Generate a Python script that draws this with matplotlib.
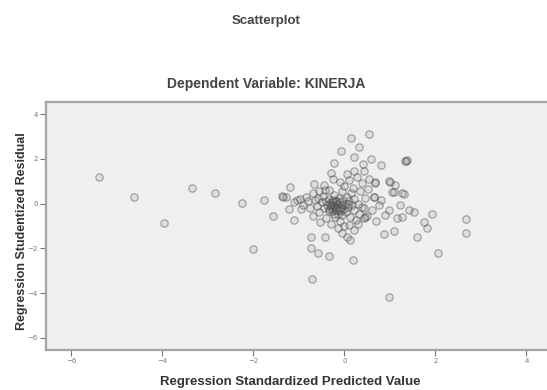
import matplotlib.pyplot as plt
import numpy as np

# predicted value (x) dan studentized residual (y)
pred_outer = [-5.40, -4.62, -3.96, -3.36, -2.85, -2.26, -2.02, -1.77, -1.57, -1.20,
              -1.37, -1.28, -1.22, -1.11, -1.04, -1.35, -0.67, -0.53, -0.71, -0.74,
              -0.74, -0.58, -0.34, 0.18, -0.42, 0.06, 0.12]
resid_outer = [1.17, 0.30, -0.88, 0.71, 0.46, 0.04, -2.03, 0.16, -0.56, 0.75,
               0.33, 0.30, -0.25, -0.74, 0.16, 0.30, 0.86, -0.81, -3.37, -1.48,
               -2.00, -2.22, -2.33, -2.52, -1.48, -1.48, -1.62]

pred_upper = [0.55, 0.15, 0.33, -0.07, 0.20, 0.58, 1.36, 1.38, 1.34, -0.23,
              0.41, 0.80, 0.22, 0.44, -0.29, 0.68, 0.99, 1.12, 1.08, 1.30,
              0.66, 1.00, 1.04, 1.26, 0.68, 0.64]
resid_upper = [3.09, 2.94, 2.54, 2.36, 2.06, 1.97, 1.90, 1.95, 1.88, 1.82,
               1.76, 1.72, 1.47, 1.47, 1.38, 0.97, 1.00, 0.83, 0.53, 0.41,
               0.30, 0.97, 0.53, 0.46, 0.90, 0.30]

pred_right = [0.60, 0.97, 1.23, 1.41, 1.52, 1.92, 1.74, 1.81, 1.08, 0.86,
              1.59, 2.67, 2.67, 2.05, 1.15, 1.26, 0.39, 0.46, 0.97]
resid_right = [-0.29, -0.29, -0.07, -0.29, -0.37, -0.49, -0.81, -1.08, -1.24, -1.38,
               -1.48, -0.69, -1.30, -2.19, -0.66, -0.59, -0.14, -0.59, -4.16]

pred_core = [-1.10, -0.98, -0.90, -0.85, -0.80, -0.75, -0.70, -0.65, -0.60, -0.58,
             -0.55, -0.50, -0.48, -0.45, -0.42, -0.40, -0.38, -0.35, -0.33, -0.30,
             -0.28, -0.26, -0.24, -0.22, -0.20, -0.18, -0.16, -0.15, -0.13, -0.12,
             -0.10, -0.08, -0.06, -0.05, -0.03, -0.02, 0.00, 0.02, 0.04, 0.05,
             0.07, 0.09, 0.10, 0.12, 0.14, 0.16, 0.18, 0.20, 0.22, 0.25,
             0.27, 0.30, 0.32, 0.35, 0.38, 0.42, 0.45, 0.50, 0.52, 0.55,
             -0.20, -0.10, 0.00, -0.30, -0.15, 0.10, 0.30, 0.42, -0.45, -0.25,
             -0.10, 0.05, -0.35, -0.55, -0.95, -0.70, -0.40, 0.20, -0.05, 0.75,
             0.80, 0.90, 0.70, -0.25, -0.18, -0.08, 0.08, -0.32,
             -0.28, -0.22, -0.12, -0.30, -0.18, -0.05, -0.35, -0.25]
resid_core = [0.05, 0.20, -0.05, 0.30, 0.10, -0.20, 0.45, 0.15, -0.10, 0.25,
              -0.40, 0.05, 0.35, -0.20, 0.60, 0.10, -0.05, -0.35, 0.20, -0.15,
              0.05, -0.25, 0.40, -0.10, 0.10, -0.30, 0.00, -0.45, 0.25, -0.15,
              0.05, -0.35, 0.55, -0.05, 0.15, -0.25, 0.80, 0.00, -0.40, 0.30,
              -0.15, 1.05, 0.10, -0.60, 0.45, -0.05, 0.70, -0.30, 0.20, -0.75,
              1.20, 0.00, -0.45, 0.55, 0.90, -0.20, 0.25, -0.55, 0.65, 1.10,
              -0.60, -0.80, -1.00, -0.90, -1.10, -0.95, -0.90, -0.65, 0.85, 1.10,
              0.95, 1.30, 0.60, 0.55, -0.25, -0.55, -0.65, -1.20, -1.30, -0.05,
              0.15, -0.50, -0.80, -0.05, 0.10, -0.20, 0.00, 0.02,
              -0.35, -0.45, -0.30, -0.05, -0.20, -0.50, -0.25, 0.15]

x = pred_outer + pred_upper + pred_right + pred_core
y = resid_outer + resid_upper + resid_right + resid_core

x_ticks = [-6, -4, -2, 0, 2, 4]
y_ticks = [4, 2, 0, -2, -4, -6]

fig = plt.figure(figsize=(5.47, 3.9), dpi=100)
fig.patch.set_facecolor("white")
ax = fig.add_axes([0.084, 0.103, 0.92, 0.635])
ax.set_facecolor("#efefef")

ax.scatter(x, y, s=28, facecolors=(0.5, 0.5, 0.5, 0.15),
           edgecolors=(0.25, 0.25, 0.25, 0.42), linewidths=0.9)

ax.set_xlim(-6.56, 4.5)
ax.set_ylim(-6.54, 4.53)
ax.set_xticks(x_ticks)
ax.set_yticks(y_ticks)
ax.tick_params(labelsize=5, colors="#777777", length=4, width=0.8, pad=2)

for s in ["top", "left", "bottom"]:
    ax.spines[s].set_color("#a5a5a5")
    ax.spines[s].set_linewidth(1.6)
ax.spines["right"].set_visible(False)

ax.set_xlabel("Regression Standardized Predicted Value", fontsize=9.5,
              fontweight="bold", color="#333333", family="Liberation Sans")
ax.xaxis.set_label_coords(0.486, -0.105)
ax.set_ylabel("Regression Studentized Residual", fontsize=9,
              fontweight="bold", color="#333333", family="Liberation Sans")
ax.yaxis.set_label_coords(-0.036, 0.48)

fig.text(0.487, 0.945, "Scatterplot", ha="center", va="center", fontsize=9.5,
         fontweight="bold", color="#444444", family="Liberation Sans")
fig.text(0.487, 0.785, "Dependent Variable: KINERJA", ha="center", va="center",
         fontsize=10, fontweight="bold", color="#444444", family="Liberation Sans")

fig.savefig("out.png", dpi=100)
